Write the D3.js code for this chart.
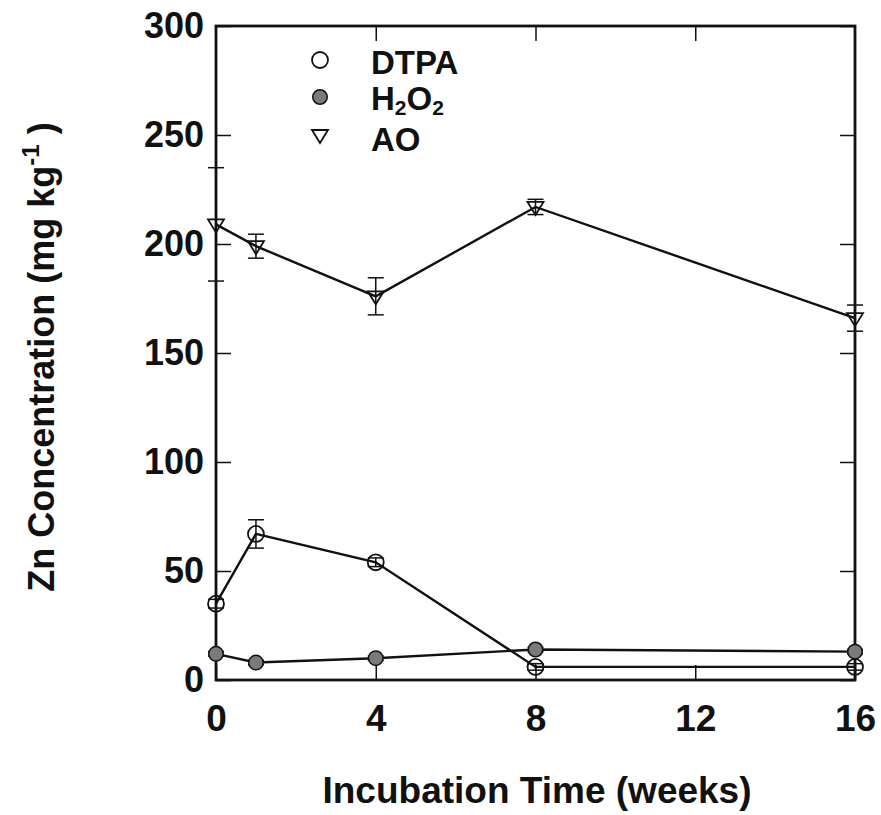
<!DOCTYPE html>
<html>
<head>
<meta charset="utf-8">
<script src="https://d3js.org/d3.v7.min.js"></script>
<style>
  body { margin: 0; background: #fff; }
  text { font-family: "Liberation Sans", Arial, Helvetica, sans-serif; font-weight: bold; fill: #111; }
</style>
</head>
<body>
<div id="chart"></div>
<script>
const weeks = [0, 1, 4, 8, 16];
const dtpa = [35, 67, 54, 6, 6];
const dtpaErr = [2, 6.5, 2, 1.5, 1.5];
const h2o2 = [12, 8, 10, 14, 13];
const h2o2Err = [1, 1, 1, 1, 1];
const ao = [209, 199, 176, 217, 166];
const aoErr = [26, 5.5, 8.5, 3.5, 6];

const xTicks = [0, 4, 8, 12, 16];
const yTicks = [0, 50, 100, 150, 200, 250, 300];

const width = 881, height = 815;
const plotLeft = 216, plotRight = 855, plotTop = 26, plotBottom = 680;

let svg = d3.select("#chart").append("svg")
    .attr("width", width)
    .attr("height", height);

let xScale = d3.scaleLinear().domain([0, 16]).range([plotLeft, plotRight]);
let yScale = d3.scaleLinear().domain([0, 300]).range([plotBottom, plotTop]);

// axes: ticks point inward, labels only on left and bottom
let leftAxis = d3.axisLeft(yScale).tickValues(yTicks).tickSize(-15).tickPadding(12);
let gLeft = svg.append("g")
    .attr("transform", "translate(" + plotLeft + ",0)")
    .call(leftAxis);
gLeft.selectAll("text").style("font-size", "36px");

let bottomAxis = d3.axisBottom(xScale).tickValues(xTicks).tickSize(-15).tickPadding(25);
let gBottom = svg.append("g")
    .attr("transform", "translate(0," + plotBottom + ")")
    .call(bottomAxis);
gBottom.selectAll("text").style("font-size", "37px");

let gRight = svg.append("g")
    .attr("transform", "translate(" + plotRight + ",0)")
    .call(d3.axisRight(yScale).tickValues(yTicks).tickSize(-15).tickFormat(""));

let gTop = svg.append("g")
    .attr("transform", "translate(0," + plotTop + ")")
    .call(d3.axisTop(xScale).tickValues([4, 8, 12]).tickSize(-15).tickFormat(""));

[gLeft, gBottom, gRight, gTop].forEach(g => {
    g.select(".domain").remove();
    g.selectAll("line").attr("stroke", "#111").attr("stroke-width", 1.5);
});

// frame
svg.append("rect")
    .attr("x", plotLeft).attr("y", plotTop)
    .attr("width", plotRight - plotLeft).attr("height", plotBottom - plotTop)
    .attr("fill", "none")
    .attr("stroke", "#111")
    .attr("stroke-width", 2.8);

const series = [
    {name: "dtpa", vals: dtpa, err: dtpaErr},
    {name: "h2o2", vals: h2o2, err: h2o2Err},
    {name: "ao", vals: ao, err: aoErr}
];

let lineGen = d3.line()
    .x(d => xScale(d[0]))
    .y(d => yScale(d[1]));

let plot = svg.append("g");

series.forEach(s => {
    let pts = weeks.map((w, i) => [w, s.vals[i], s.err[i]]);
    plot.append("path")
        .datum(pts)
        .attr("fill", "none")
        .attr("stroke", "#111")
        .attr("stroke-width", 2.4)
        .attr("d", lineGen);

    // error bars
    let eb = plot.append("g").selectAll("g").data(pts).join("g");
    eb.append("line")
        .attr("x1", d => xScale(d[0])).attr("x2", d => xScale(d[0]))
        .attr("y1", d => yScale(d[1] - d[2])).attr("y2", d => yScale(d[1] + d[2]))
        .attr("stroke", "#111").attr("stroke-width", 1.5);
    [-1, 1].forEach(k => {
        eb.append("line")
            .attr("x1", d => xScale(d[0]) - 8).attr("x2", d => xScale(d[0]) + 8)
            .attr("y1", d => yScale(d[1] + k * d[2])).attr("y2", d => yScale(d[1] + k * d[2]))
            .attr("stroke", "#111").attr("stroke-width", 1.5);
    });

    drawMarkers(plot, s.name, pts.map(d => [xScale(d[0]), yScale(d[1])]));
});

function drawMarkers(g, name, xy) {
    let sel = g.append("g").selectAll("path").data(xy).join("path")
        .attr("transform", d => "translate(" + d[0] + "," + d[1] + ")")
        .attr("stroke", "#111");
    if (name === "dtpa") {
        sel.attr("d", d3.symbol(d3.symbolCircle, 200)())
            .attr("fill", "none").attr("stroke-width", 1.8);
    } else if (name === "h2o2") {
        sel.attr("d", d3.symbol(d3.symbolCircle, 165)())
            .attr("fill", "#7a7a7a").attr("stroke-width", 1.5);
    } else {
        sel.attr("d", "M-8,-5L8,-5L0,8Z")
            .attr("fill", "none").attr("stroke-width", 1.8);
    }
}

// legend
const legendNames = ["dtpa", "h2o2", "ao"];
const legendY = [60, 97, 135];
legendNames.forEach((n, i) => drawMarkers(svg, n, [[320, legendY[i]]]));

let lg = svg.append("g").style("font-size", "33px");
lg.append("text").attr("x", 371).attr("y", 74).text("DTPA");
let t2 = lg.append("text").attr("x", 371).attr("y", 110);
t2.append("tspan").text("H");
t2.append("tspan").attr("dy", 5).style("font-size", "21px").text("2");
t2.append("tspan").attr("dy", -5).text("O");
t2.append("tspan").attr("dy", 5).style("font-size", "21px").text("2");
lg.append("text").attr("x", 371).attr("y", 151).text("AO");

// axis titles
svg.append("text")
    .attr("x", 537).attr("y", 803)
    .attr("text-anchor", "middle")
    .style("font-size", "37px")
    .text("Incubation Time (weeks)");

let yt = svg.append("text")
    .attr("transform", "translate(54,357) rotate(-90)")
    .attr("text-anchor", "middle")
    .style("font-size", "36px");
yt.append("tspan").text("Zn Concentration (mg kg");
yt.append("tspan").attr("dy", -15).style("font-size", "24px").text("-1");
yt.append("tspan").attr("dy", 15).text(" )");
</script>
</body>
</html>
